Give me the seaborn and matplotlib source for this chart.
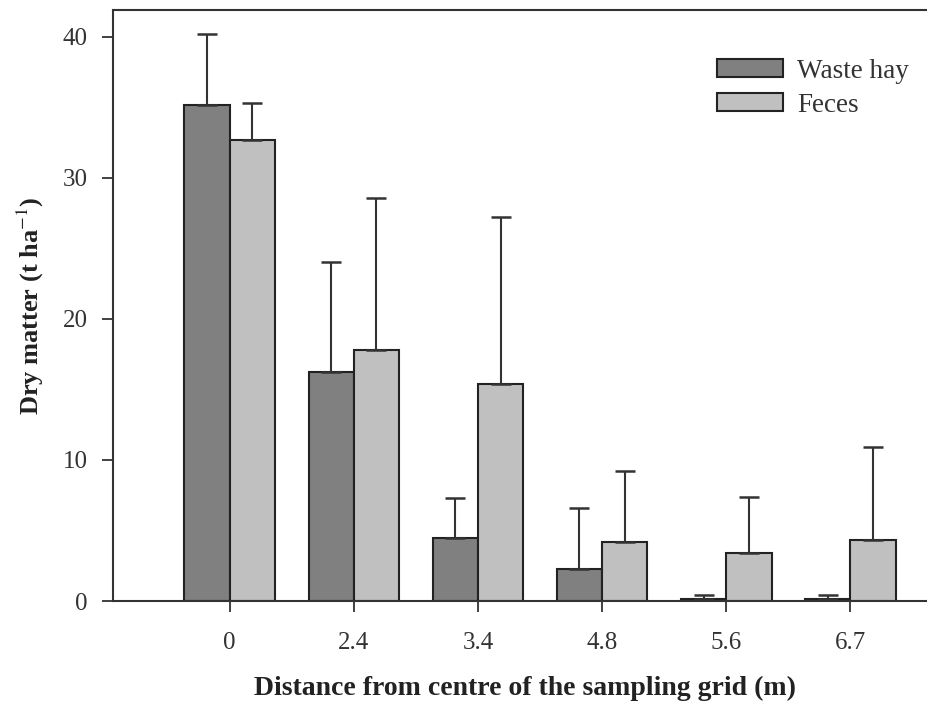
import matplotlib
matplotlib.use("Agg")
import matplotlib.pyplot as plt
import seaborn as sns
import pandas as pd
import numpy as np

distances = ["0", "2.4", "3.4", "4.8", "5.6", "6.7"]
waste_hay = [35.2, 16.2, 4.5, 2.3, 0.15, 0.15]
waste_hay_err = [5.0, 7.8, 2.8, 4.3, 0.3, 0.3]
feces = [32.7, 17.8, 15.4, 4.2, 3.4, 4.3]
feces_err = [2.6, 10.8, 11.8, 5.0, 3.95, 6.6]
series = ["Waste hay", "Feces"]
colors = ["#808080", "#c0c0c0"]

df = pd.DataFrame({
    "distance": distances * 2,
    "value": waste_hay + feces,
    "err": waste_hay_err + feces_err,
    "series": [series[0]] * len(distances) + [series[1]] * len(distances),
})

sns.set_style("white")
plt.rcParams["font.family"] = ["Liberation Serif", "DejaVu Serif"]
plt.rcParams["mathtext.fontset"] = "stix"

fig = plt.figure(figsize=(9.28, 7.10), dpi=100)
ax = fig.add_axes([113 / 928, 1 - 601 / 710, 1 - 113 / 928 + 0.01, (601 - 10) / 710])

sns.barplot(data=df, x="distance", y="value", hue="series", order=distances,
            hue_order=series, palette=colors, width=0.73, errorbar=None,
            edgecolor="#222222", linewidth=1.5, saturation=1, ax=ax)

# error bars (upper only), positioned from the drawn bars
for container, s in zip(ax.containers, series):
    errs = df[df["series"] == s]["err"].values
    vals = df[df["series"] == s]["value"].values
    xs = [p.get_x() + p.get_width() / 2 for p in container.patches]
    ax.errorbar(xs, vals, yerr=[np.zeros_like(errs), errs], fmt="none",
                ecolor="#333333", elinewidth=1.5, capsize=7, capthick=1.8, zorder=1)

ax.set_ylim(0, 41.9)
ax.set_xlim(-0.94, 5.7)
ax.set_yticks([0, 10, 20, 30, 40])
ax.tick_params(axis="both", direction="out", length=8, width=1.3, color="#333333",
               labelsize=18, labelcolor="#333333", bottom=True, left=True)
ax.tick_params(axis="y", pad=10)
ax.tick_params(axis="x", pad=14)
for side in ["left", "bottom", "top"]:
    ax.spines[side].set_color("#333333")
    ax.spines[side].set_linewidth(1.5)
ax.spines["right"].set_visible(False)

ax.set_xlabel("Distance from centre of the sampling grid (m)", fontsize=20,
              fontweight="bold", labelpad=16, color="#222222")
ax.set_ylabel("Dry matter (t ha$^{-1}$)", fontsize=19, fontweight="bold",
              labelpad=12, color="#222222")

leg = ax.legend(loc="upper left", bbox_to_anchor=(0.7195, 0.9357),
                frameon=False, fontsize=19.5, handlelength=2.45, handleheight=0.65,
                labelspacing=0.32, handletextpad=0.5, borderaxespad=0)
for t in leg.get_texts():
    t.set_color("#333333")

fig.savefig("out.png", dpi=100)
